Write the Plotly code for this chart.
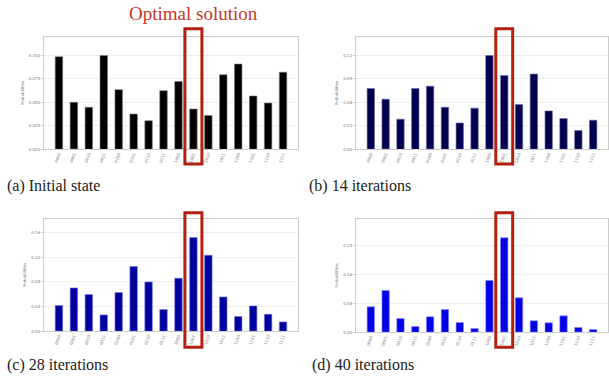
import plotly.graph_objects as go

states = ["0000", "0001", "0010", "0011", "0100", "0101", "0110", "0111",
          "1000", "1001", "1010", "1011", "1100", "1101", "1110", "1111"]
optimal_state = "1001"

initial_probs = [0.0987, 0.0500, 0.0447, 0.1000, 0.0636, 0.0375, 0.0304, 0.0625,
                 0.0722, 0.0429, 0.0361, 0.0794, 0.0909, 0.0568, 0.0493, 0.0822]
iter14_probs = [0.0778, 0.0641, 0.0385, 0.0778, 0.0808, 0.0538, 0.0337, 0.0526,
                0.1200, 0.0944, 0.0573, 0.0962, 0.0491, 0.0393, 0.0240, 0.0372]
iter28_probs = [0.0416, 0.0701, 0.0594, 0.0264, 0.0627, 0.1048, 0.0798, 0.0351,
                0.0858, 0.1517, 0.1231, 0.0556, 0.0238, 0.0410, 0.0275, 0.0151]
iter40_probs = [0.0706, 0.1158, 0.0380, 0.0158, 0.0428, 0.0630, 0.0269, 0.0103,
                0.1436, 0.2620, 0.0955, 0.0317, 0.0260, 0.0455, 0.0130, 0.0074]

captions = ["(a) Initial state", "(b) 14 iterations", "(c) 28 iterations", "(d) 40 iterations"]
bar_colors = ["#000000", "#00004f", "#00009e", "#0000e6"]
edge_colors = ["rgba(120,120,120,0.6)", "rgba(110,110,170,0.6)",
               "rgba(120,120,220,0.6)", "rgba(140,140,255,0.6)"]
tick_steps = [0.025, 0.03, 0.04, 0.08]
tick_formats = [".3f", ".2f", ".2f", ".2f"]

W, H = 609, 377
# panel layout in pixels: (left, right, top, bottom)
panels = [(44, 298, 37, 150), (356, 608, 37, 150), (44, 298, 220, 333), (356, 608, 220, 334)]
rect_y = [(29, 165), (29, 165), (214, 349), (214, 349)]
caption_pos = [(5, 187), (307, 187), (5, 367), (310, 367)]

series = [initial_probs, iter14_probs, iter28_probs, iter40_probs]
xs = list(range(len(states)))
opt_idx = states.index(optimal_state)

fig = go.Figure()
layout = dict(width=W, height=H, margin=dict(l=0, r=0, t=0, b=0),
              plot_bgcolor="white", paper_bgcolor="white", showlegend=False,
              font=dict(family="DejaVu Sans", color="#555"))
shapes = []
annotations = []
for i, vals in enumerate(series):
    n = "" if i == 0 else str(i + 1)
    fig.add_trace(go.Bar(x=xs, y=vals, width=0.5, xaxis="x" + n, yaxis="y" + n,
                         marker=dict(color=bar_colors[i], line=dict(color=edge_colors[i], width=1))))
    L, R, T, B = panels[i]
    ymax = max(vals) * 1.2
    layout["xaxis" + n] = dict(domain=[L / W, R / W], range=[-1, len(states)], anchor="y" + n,
                               tickmode="array", tickvals=xs, ticktext=states, tickangle=-70,
                               tickfont=dict(size=4, color="#777"), showline=True, mirror=True,
                               linecolor="#cccccc", linewidth=1, showgrid=False, ticks="", zeroline=False)
    layout["yaxis" + n] = dict(domain=[1 - B / H, 1 - T / H], range=[0, ymax], anchor="x" + n,
                               dtick=tick_steps[i], tick0=0, tickformat=tick_formats[i],
                               tickfont=dict(size=4, color="#777"), showline=True, mirror=True,
                               linecolor="#cccccc", linewidth=1, showgrid=True, gridcolor="#eeeeee",
                               gridwidth=1, zeroline=False, ticks="outside", ticklen=2, tickcolor="#cccccc",
                               title=dict(text="Probabilities", font=dict(size=4, color="#777"), standoff=4))
    y0, y1 = rect_y[i]
    shapes.append(dict(type="rect", xref="x" + n, yref="paper",
                       x0=opt_idx - 0.57, x1=opt_idx + 0.57, y0=1 - y1 / H, y1=1 - y0 / H,
                       line=dict(color="#b3200f", width=3), fillcolor="rgba(0,0,0,0)"))
    cx, cy = caption_pos[i]
    annotations.append(dict(text=captions[i], xref="paper", yref="paper", x=cx / W, y=1 - cy / H,
                            xanchor="left", yanchor="middle", showarrow=False,
                            font=dict(family="Liberation Serif", size=16, color="#222")))

annotations.append(dict(text="Optimal solution", xref="paper", yref="paper", x=193 / W, y=1 - 14 / H,
                        xanchor="center", yanchor="middle", showarrow=False,
                        font=dict(family="Liberation Serif", size=19, color="#c0392b")))
layout["shapes"] = shapes
layout["annotations"] = annotations
fig.update_layout(**layout)
fig.write_html("out.html", config={"displayModeBar": False},
               post_script="document.body.style.margin='0';document.body.style.overflow='hidden';")
